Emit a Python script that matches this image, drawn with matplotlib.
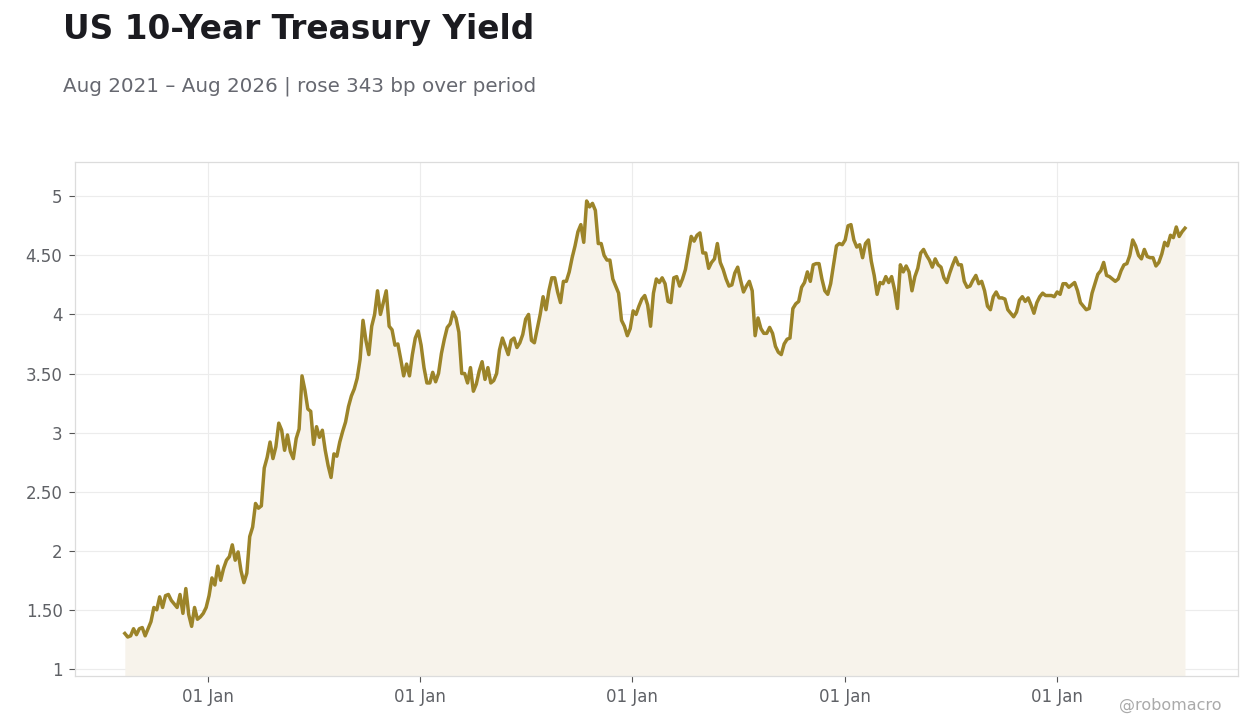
import numpy as np
import pandas as pd
import matplotlib
matplotlib.use("Agg")
import matplotlib.pyplot as plt
import matplotlib.dates as mdates
from matplotlib.ticker import FuncFormatter

dates = pd.date_range("2021-08-11", "2026-08-10", freq="5D")
yields = [
    1.30, 1.27, 1.28, 1.34, 1.29, 1.34, 1.35, 1.28, 1.34, 1.40,
    1.52, 1.50, 1.61, 1.52, 1.62, 1.63, 1.58, 1.55, 1.52, 1.63,
    1.47, 1.68, 1.46, 1.36, 1.52, 1.42, 1.44, 1.47, 1.52, 1.62,
    1.77, 1.71, 1.87, 1.75, 1.85, 1.92, 1.95, 2.05, 1.92, 1.99,
    1.83, 1.73, 1.81, 2.12, 2.20, 2.40, 2.36, 2.38, 2.70, 2.79,
    2.92, 2.78, 2.88, 3.08, 3.02, 2.85, 2.98, 2.84, 2.78, 2.95,
    3.03, 3.48, 3.36, 3.20, 3.18, 2.90, 3.05, 2.96, 3.02, 2.85,
    2.72, 2.62, 2.82, 2.80, 2.92, 3.01, 3.09, 3.22, 3.31, 3.37,
    3.46, 3.62, 3.95, 3.78, 3.66, 3.90, 4.00, 4.20, 4.00, 4.10,
    4.20, 3.90, 3.87, 3.74, 3.75, 3.62, 3.48, 3.58, 3.48, 3.66,
    3.80, 3.86, 3.74, 3.55, 3.42, 3.42, 3.51, 3.43, 3.50, 3.67,
    3.79, 3.89, 3.92, 4.02, 3.97, 3.85, 3.50, 3.50, 3.42, 3.55,
    3.35, 3.41, 3.52, 3.60, 3.45, 3.55, 3.42, 3.44, 3.50, 3.70,
    3.80, 3.73, 3.66, 3.78, 3.80, 3.72, 3.76, 3.83, 3.96, 4.00,
    3.78, 3.76, 3.88, 4.00, 4.15, 4.04, 4.20, 4.31, 4.31, 4.19,
    4.10, 4.28, 4.28, 4.36, 4.48, 4.58, 4.70, 4.76, 4.61, 4.96,
    4.91, 4.94, 4.88, 4.60, 4.60, 4.50, 4.46, 4.46, 4.30, 4.24,
    4.18, 3.95, 3.90, 3.82, 3.88, 4.03, 4.00, 4.07, 4.13, 4.16,
    4.08, 3.90, 4.18, 4.30, 4.27, 4.31, 4.26, 4.11, 4.10, 4.31,
    4.32, 4.24, 4.30, 4.38, 4.52, 4.66, 4.62, 4.67, 4.69, 4.52,
    4.52, 4.39, 4.44, 4.47, 4.60, 4.44, 4.38, 4.30, 4.24, 4.25,
    4.35, 4.40, 4.29, 4.19, 4.24, 4.28, 4.20, 3.82, 3.97, 3.88,
    3.84, 3.84, 3.89, 3.84, 3.73, 3.68, 3.66, 3.75, 3.79, 3.80,
    4.05, 4.09, 4.11, 4.23, 4.27, 4.36, 4.28, 4.42, 4.43, 4.43,
    4.30, 4.20, 4.17, 4.26, 4.42, 4.58, 4.60, 4.59, 4.63, 4.75,
    4.76, 4.63, 4.57, 4.59, 4.48, 4.60, 4.63, 4.45, 4.33, 4.17,
    4.27, 4.26, 4.32, 4.27, 4.32, 4.21, 4.05, 4.42, 4.36, 4.41,
    4.36, 4.20, 4.32, 4.39, 4.52, 4.55, 4.50, 4.46, 4.40, 4.47,
    4.42, 4.40, 4.31, 4.27, 4.35, 4.42, 4.48, 4.42, 4.42, 4.28,
    4.23, 4.24, 4.29, 4.33, 4.26, 4.28, 4.20, 4.07, 4.04, 4.15,
    4.19, 4.14, 4.14, 4.13, 4.04, 4.01, 3.98, 4.02, 4.12, 4.15,
    4.11, 4.14, 4.08, 4.01, 4.10, 4.15, 4.18, 4.16, 4.16, 4.16,
    4.15, 4.19, 4.17, 4.26, 4.26, 4.23, 4.25, 4.27, 4.20, 4.10,
    4.07, 4.04, 4.05, 4.18, 4.26, 4.34, 4.37, 4.44, 4.33, 4.32,
    4.30, 4.28, 4.30, 4.37, 4.42, 4.43, 4.50, 4.63, 4.58, 4.50,
    4.47, 4.55, 4.49, 4.48, 4.48, 4.41, 4.44, 4.51, 4.61, 4.58,
    4.67, 4.65, 4.74, 4.66, 4.70, 4.73,
]
y_ticks = [1, 1.5, 2, 2.5, 3, 3.5, 4, 4.5, 5]
x_ticks = pd.to_datetime(["2022-01-01", "2023-01-01", "2024-01-01", "2025-01-01", "2026-01-01"])

title = "US 10-Year Treasury Yield"
subtitle = "Aug 2021 \u2013 Aug 2026 | rose 343 bp over period"

line_col = "#9c8429"
grey = "#5f6166"

fig = plt.figure(figsize=(12.6, 7.28), dpi=100)
ax = fig.add_axes([75 / 1260, 52 / 728, 1163 / 1260, 514 / 728])

ax.fill_between(dates, yields, 0, color="#f7f3eb", lw=0)
ax.plot(dates, yields, color=line_col, lw=2.5, solid_joinstyle="round")

span = dates[-1] - dates[0]
ax.set_xlim(dates[0] - span * 0.047, dates[-1] + span * 0.05)
ax.set_ylim(0.94, 5.29)

ax.set_yticks(y_ticks)
ax.yaxis.set_major_formatter(FuncFormatter(lambda v, p: "%d" % v if float(v).is_integer() else "%.2f" % v))
ax.set_xticks(x_ticks)
ax.xaxis.set_major_formatter(mdates.DateFormatter("%d %b"))

ax.grid(True, color="#ececec", lw=0.8)
ax.set_axisbelow(True)
for s in ax.spines.values():
    s.set_color("#dcdcdc")
    s.set_linewidth(0.9)
ax.tick_params(axis="both", colors="#555555", labelcolor=grey, labelsize=12, length=4, width=0.8, pad=5)

fig.text(63 / 1260, 1 - 39 / 728, title, fontsize=23.6, fontweight="bold", color="#1b1b20", va="baseline")
fig.text(63 / 1260, 1 - 92 / 728, subtitle, fontsize=14.3, color="#666870", va="baseline")
fig.text(1221 / 1260, 1 - 710 / 728, "@robomacro", fontsize=11.5, color="#aaaaaa", ha="right", va="baseline")

fig.savefig("out.png", dpi=100)
